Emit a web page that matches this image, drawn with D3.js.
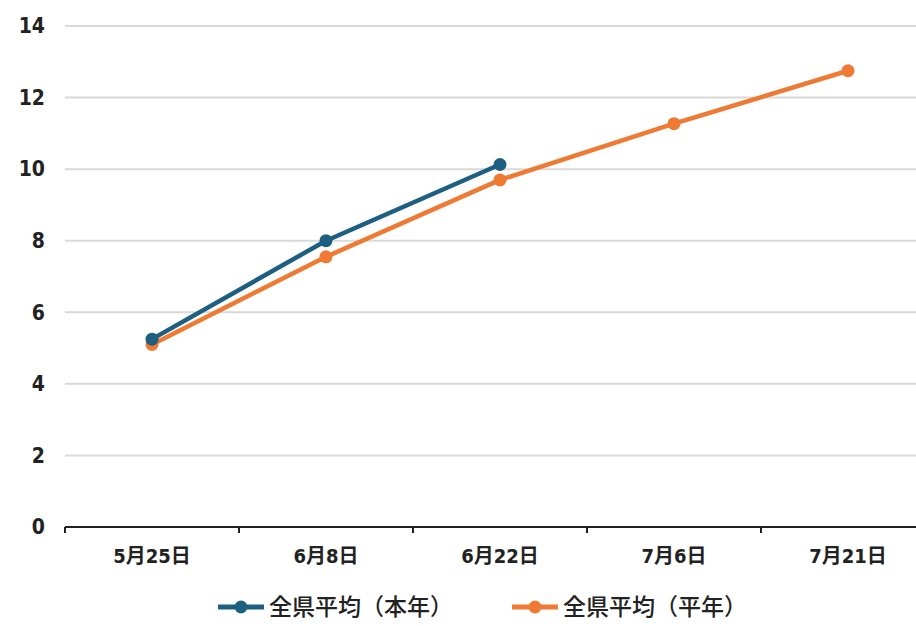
<!DOCTYPE html>
<html>
<head>
<meta charset="utf-8">
<script src="https://cdn.jsdelivr.net/npm/d3@7"></script>
<style>
	body { margin: 0; background: #fff; }
	svg text { font-family: "DejaVu Sans", "Noto Sans CJK JP", sans-serif; font-stretch: condensed; font-weight: bold; fill: #222; }
	.legend text { font-family: "Noto Sans CJK JP", sans-serif; font-stretch: normal; font-weight: 500; }
</style>
</head>
<body>
<div id="chart"></div>
<script>
// data
var categories = ["5月25日", "6月8日", "6月22日", "7月6日", "7月21日"];
var thisYear = [5.25, 8.0, 10.13];          // 全県平均（本年）
var normalYear = [5.1, 7.55, 9.7, 11.27, 12.75]; // 全県平均（平年）
var yTicks = [0, 2, 4, 6, 8, 10, 12, 14];
var seriesNames = ["全県平均（本年）", "全県平均（平年）"];
var seriesColors = ["#1d5f80", "#ef7a33"];

var width = 916, height = 626,
	margin = {top: 26, right: -19, bottom: 99, left: 65};

var svg = d3.select("#chart").append("svg")
	.attr("width", width)
	.attr("height", height);

var x = d3.scaleBand()
	.domain(categories)
	.range([margin.left, width - margin.right]);

var y = d3.scaleLinear()
	.domain([0, 14])
	.range([height - margin.bottom, margin.top]);

// gridlines
svg.append("g")
	.selectAll("line")
	.data(yTicks.filter(d => d > 0))
	.enter().append("line")
	.attr("x1", margin.left)
	.attr("x2", width)
	.attr("y1", d => y(d))
	.attr("y2", d => y(d))
	.attr("stroke", "#d9d9d9")
	.attr("stroke-width", 2);

// y labels
svg.append("g")
	.selectAll("text")
	.data(yTicks)
	.enter().append("text")
	.attr("x", 45)
	.attr("y", d => y(d))
	.attr("dy", "0.35em")
	.attr("text-anchor", "end")
	.style("font-size", "21px")
	.text(d => d);

// x axis
var xAxis = svg.append("g")
	.attr("transform", "translate(0," + y(0) + ")");
xAxis.append("line")
	.attr("x1", margin.left)
	.attr("x2", width)
	.attr("stroke", "#222")
	.attr("stroke-width", 2);
xAxis.selectAll(".tick")
	.data(categories)
	.enter().append("line")
	.attr("x1", d => x(d))
	.attr("x2", d => x(d))
	.attr("y1", 0)
	.attr("y2", 6)
	.attr("stroke", "#222")
	.attr("stroke-width", 2);
xAxis.selectAll("text")
	.data(categories)
	.enter().append("text")
	.attr("x", d => x(d) + x.bandwidth() / 2)
	.attr("y", 36)
	.attr("text-anchor", "middle")
	.style("font-size", "20px")
	.text(d => d);

var line = d3.line()
	.x((d, i) => x(categories[i]) + x.bandwidth() / 2)
	.y(d => y(d));

function drawSeries(values, color) {
	var g = svg.append("g");
	g.append("path")
		.datum(values)
		.attr("d", line)
		.attr("fill", "none")
		.attr("stroke", color)
		.attr("stroke-width", 4.5)
		.attr("stroke-linejoin", "round");
	g.selectAll("circle")
		.data(values)
		.enter().append("circle")
		.attr("cx", (d, i) => x(categories[i]) + x.bandwidth() / 2)
		.attr("cy", d => y(d))
		.attr("r", 6.5)
		.attr("fill", color);
}

drawSeries(normalYear, seriesColors[1]);
drawSeries(thisYear, seriesColors[0]);

// legend
var legendX = [218, 512];
var legend = svg.append("g").attr("class", "legend")
	.selectAll("g")
	.data(seriesNames)
	.enter().append("g")
	.attr("transform", (d, i) => "translate(" + legendX[i] + ",607)");
legend.append("line")
	.attr("x1", 0).attr("x2", 46)
	.attr("stroke", (d, i) => seriesColors[i])
	.attr("stroke-width", 5);
legend.append("circle")
	.attr("cx", 23).attr("r", 6.5)
	.attr("fill", (d, i) => seriesColors[i]);
legend.append("text")
	.attr("x", 51)
	.attr("dy", "0.35em")
	.style("font-size", "23px")
	.text(d => d);
</script>
</body>
</html>
